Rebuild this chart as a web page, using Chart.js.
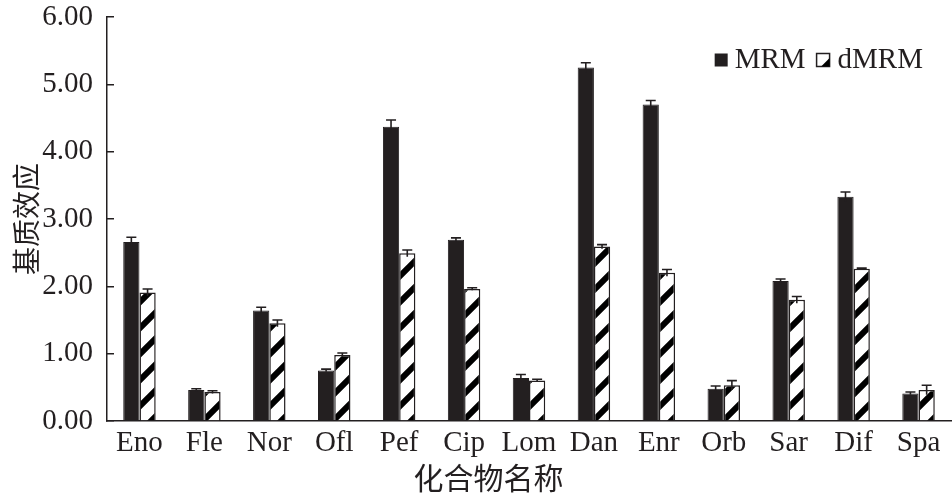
<!DOCTYPE html>
<html>
<head>
<meta charset="utf-8">
<script src="https://cdn.jsdelivr.net/npm/chart.js@4"></script>
<style>
  body { margin: 0; background: #fff; }
  #wrap { width: 952px; height: 496px; position: relative; }
</style>
</head>
<body>
<div id="wrap"><canvas id="matrixChart"></canvas></div>
<script>
// ------------------------------
// Data
// ------------------------------
const compounds = ["Eno", "Fle", "Nor", "Ofl", "Pef", "Cip", "Lom", "Dan", "Enr", "Orb", "Sar", "Dif", "Spa"];

const mrmValues  = [2.66, 0.46, 1.64, 0.75, 4.37, 2.69, 0.64, 5.25, 4.70, 0.48, 2.08, 3.33, 0.41];
const dmrmValues = [1.91, 0.43, 1.45, 0.98, 2.49, 1.96, 0.60, 2.59, 2.20, 0.53, 1.80, 2.26, 0.46];

const mrmErrors  = [0.07, 0.02, 0.05, 0.02, 0.10, 0.03, 0.05, 0.07, 0.06, 0.04, 0.03, 0.07, 0.02];
const dmrmErrors = [0.05, 0.02, 0.05, 0.03, 0.05, 0.02, 0.02, 0.03, 0.05, 0.07, 0.05, 0.01, 0.07];

const seriesNames = ["MRM", "dMRM"];
const yTicks = [0, 1, 2, 3, 4, 5, 6];

const ink = "#231f20";
const serif = "'Liberation Serif', 'Times New Roman', serif";
const cjk = "'Noto Sans CJK SC', sans-serif";

// ------------------------------
// Hatch pattern for dMRM bars
// ------------------------------
function makeHatch() {
    const t = 26;
    const c = document.createElement("canvas");
    c.width = t;
    c.height = t;
    const g = c.getContext("2d");
    g.fillStyle = "#fff";
    g.fillRect(0, 0, t, t);
    g.strokeStyle = "#000";
    g.lineWidth = 6;
    g.beginPath();
    g.moveTo(0, t); g.lineTo(t, 0);
    g.moveTo(-t / 2, t / 2); g.lineTo(t / 2, -t / 2);
    g.moveTo(t / 2, t + t / 2); g.lineTo(t + t / 2, t / 2);
    g.stroke();
    return g.createPattern(c, "repeat");
}
const hatch = makeHatch();

// ------------------------------
// Error bars
// ------------------------------
const errorSets = [mrmErrors, dmrmErrors];

const errorBars = {
    id: "errorBars",
    afterDatasetsDraw(chart) {
        const ctx = chart.ctx;
        const y = chart.scales.y;
        chart.data.datasets.forEach((ds, i) => {
            const meta = chart.getDatasetMeta(i);
            meta.data.forEach((bar, j) => {
                const v = ds.data[j];
                const e = errorSets[i][j];
                const top = y.getPixelForValue(v + e);
                const low = y.getPixelForValue(v - e);
                ctx.save();
                ctx.strokeStyle = ink;
                ctx.lineWidth = 1.6;
                ctx.beginPath();
                ctx.moveTo(bar.x, low);
                ctx.lineTo(bar.x, top);
                ctx.moveTo(bar.x - 5, top);
                ctx.lineTo(bar.x + 5, top);
                ctx.stroke();
                ctx.restore();
            });
        });
    }
};

// ------------------------------
// Legend (top right, inside plot) + x axis title
// ------------------------------
const captions = {
    id: "captions",
    afterDraw(chart) {
        const ctx = chart.ctx;
        const area = chart.chartArea;
        ctx.save();
        ctx.font = "29px " + serif;
        ctx.fillStyle = ink;
        ctx.textBaseline = "middle";
        const cy = area.top + 43;
        const box = 13;
        const w1 = ctx.measureText(seriesNames[0]).width;
        const w2 = ctx.measureText(seriesNames[1]).width;
        let x = area.right - 28 - w2;
        ctx.fillText(seriesNames[1], x, cy);
        x -= 8 + box;
        // dMRM icon
        ctx.fillStyle = "#fff";
        ctx.fillRect(x, cy - box / 2, box, box);
        ctx.strokeStyle = ink;
        ctx.lineWidth = 1.5;
        ctx.strokeRect(x, cy - box / 2, box, box);
        ctx.fillStyle = "#000";
        ctx.beginPath();
        ctx.moveTo(x + box * 0.35, cy + box / 2);
        ctx.lineTo(x + box, cy - box / 2 + box * 0.35);
        ctx.lineTo(x + box, cy + box / 2);
        ctx.closePath();
        ctx.fill();
        x -= 11 + w1;
        ctx.fillStyle = ink;
        ctx.fillText(seriesNames[0], x, cy);
        x -= 7 + box;
        ctx.fillRect(x, cy - box / 2, box, box);

        // x axis title, sits a little left of centre in the original
        ctx.font = "30px " + cjk;
        ctx.textAlign = "center";
        ctx.fillText("化合物名称", area.left + (area.right - area.left) * 0.452, area.bottom + 57);
        ctx.restore();
    }
};

// ------------------------------
// Chart.js Code
// ------------------------------
const ctx = document.getElementById("matrixChart");

new Chart(ctx, {
    type: "bar",
    data: {
        labels: compounds,
        datasets: [
            {
                label: seriesNames[0],
                data: mrmValues,
                backgroundColor: ink,
                borderColor: ink,
                borderWidth: 1
            },
            {
                label: seriesNames[1],
                data: dmrmValues,
                backgroundColor: hatch,
                borderColor: ink,
                borderWidth: 1.5
            }
        ]
    },
    options: {
        responsive: true,
        maintainAspectRatio: false,
        animation: false,
        categoryPercentage: 0.5,
        barPercentage: 1.0,
        layout: {
            padding: { top: 0, right: 1, left: 0, bottom: 0 }
        },
        plugins: {
            legend: { display: false },
            tooltip: { enabled: false },
            title: { display: false }
        },
        scales: {
            x: {
                grid: { display: false },
                border: { display: true, color: ink, width: 1.5 },
                ticks: {
                    color: ink,
                    padding: -3,
                    font: { family: serif, size: 29 }
                },
                afterFit(scale) { scale.height = 75; }
            },
            y: {
                min: 0,
                max: 6,
                afterBuildTicks(scale) {
                    scale.ticks = yTicks.map(v => ({ value: v }));
                },
                grid: {
                    display: true,
                    drawOnChartArea: false,
                    drawTicks: true,
                    tickLength: -7,
                    color: ink,
                    lineWidth: 1.5
                },
                border: { display: true, color: ink, width: 1.5 },
                ticks: {
                    color: ink,
                    padding: 21,
                    font: { family: serif, size: 29 },
                    callback: v => Number(v).toFixed(2)
                },
                title: {
                    display: true,
                    text: "基质效应",
                    color: ink,
                    padding: { top: 10, bottom: 0 },
                    font: { family: cjk, size: 28, lineHeight: 1.2 }
                },
                afterFit(scale) {
                    scale.width = 107;
                    scale.paddingTop = 17;
                    scale.paddingBottom = 17;
                }
            }
        }
    },
    plugins: [errorBars, captions]
});
</script>
</body>
</html>
